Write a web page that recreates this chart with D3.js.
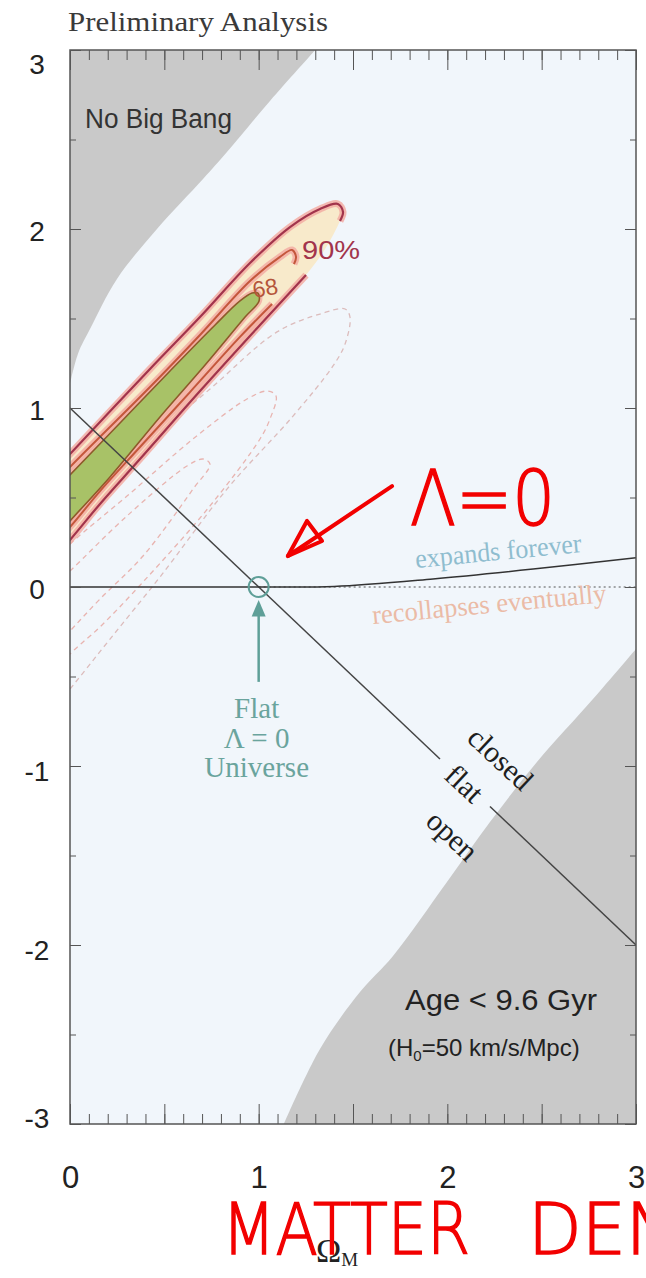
<!DOCTYPE html>
<html>
<head>
<meta charset="utf-8">
<script src="https://cdn.jsdelivr.net/npm/d3@7"></script>
<style>
  body { margin: 0; background: #fff; }
  .serif { font-family: "Liberation Serif", "DejaVu Serif", serif; }
  .sans { font-family: "Liberation Sans", Arial, sans-serif; }
  .hand { font-family: "DejaVu Sans", sans-serif; font-weight: 200; }
</style>
</head>
<body>
<div id="chart"></div>
<script>
// ---- data (Omega_M, Omega_Lambda) ----
var xTickValues = [0, 1, 2, 3];
var xTickLabels = ["0", "1", "2", "3"];
var yTickValues = [-3, -2, -1, 0, 1, 2, 3];
var yTickLabels = ["-3", "-2", "-1", "0", "1", "2", "3"];

// edge of the "No Big Bang" region, top edge down to the left edge
var noBigBangEdge = [[1.30, 3.0], [1.06, 2.715], [0.832, 2.43], [0.705, 2.279], [0.461, 2.0],
  [0.249, 1.721], [0.106, 1.441], [0.042, 1.302], [0, 1.134]];
// edge of the "Age < 9.6 Gyr" region, right edge down to the bottom edge
var ageEdge = [[3.0, -0.346], [2.772, -0.626], [2.475, -0.978], [2.226, -1.313], [1.998, -1.648],
  [1.712, -2.061], [1.537, -2.263], [1.325, -2.581], [1.134, -3.0]];

// 90% contour, upper branch (left to tip) and lower branch (tip to left)
var c90Upper = [[-0.159, 0.564], [0, 0.743], [0.424, 1.218], [0.689, 1.508], [0.954, 1.810],
  [1.166, 2.011], [1.325, 2.112], [1.420, 2.140], [1.447, 2.095], [1.431, 2.045]];
var c90Tip = [[1.352, 1.888]];
var c90Lower = [[1.251, 1.743], [1.007, 1.464], [0.689, 1.095], [0.371, 0.715], [0.159, 0.464],
  [0, 0.263], [-0.159, 0.078]];
// 68% contour
var c68Upper = [[-0.159, 0.492], [0, 0.670], [0.424, 1.117], [0.689, 1.408], [0.954, 1.709],
  [1.113, 1.844], [1.177, 1.883], [1.198, 1.844], [1.187, 1.804]];
var c68Lower = [[1.071, 1.581], [0.901, 1.397], [0.636, 1.089], [0.371, 0.782], [0.159, 0.536],
  [0, 0.335], [-0.159, 0.156]];
// innermost (green) contour, closed
var cInner = [[-0.159, 0.447], [0, 0.626], [0.265, 0.916], [0.530, 1.207], [0.769, 1.464],
  [0.901, 1.598], [0.965, 1.642], [0.996, 1.642], [1.002, 1.598], [0.928, 1.508], [0.716, 1.240],
  [0.477, 0.950], [0.212, 0.615], [0, 0.369], [-0.159, 0.179]];

// faint dashed contours (other fit)
var dashA = [[-0.159, 0.184], [0, 0.363], [0.387, 0.788], [0.742, 1.106], [1.097, 1.425], [1.325, 1.525],
  [1.458, 1.553], [1.484, 1.508], [1.458, 1.358], [1.394, 1.235], [1.182, 0.955], [0.832, 0.547],
  [0.477, 0.056], [0.212, -0.291], [0, -0.570], [-0.159, -0.770]];
var dashB = [[-0.159, 0.073], [0, 0.240], [0.302, 0.508], [0.652, 0.827], [0.938, 1.050], [1.049, 1.095],
  [1.092, 1.067], [1.060, 0.939], [1.007, 0.827], [0.742, 0.453], [0.387, 0.028], [0.159, -0.223],
  [0, -0.374], [-0.159, -0.560]];
var dashC = [[-0.159, -0.067], [0, 0.089], [0.302, 0.397], [0.620, 0.676], [0.705, 0.715], [0.742, 0.687],
  [0.652, 0.547], [0.387, 0.173], [0.159, -0.067], [0, -0.246], [-0.159, -0.430]];

// flat universe line Omega_M + Omega_L = 1 (gap for the "flat" label)
var flatLineA = [[0, 1], [1.961, -0.961]];
var flatLineB = [[2.226, -1.226], [3, -2]];
// expands / recollapses boundary
var expandEdge = [[0, 0], [1, 0], [1.4, 0.003], [1.924, 0.045], [2.455, 0.1], [3, 0.163]];
var lambdaZero = [[1, 0], [3, 0]];

// ---- layout ----
var svgWidth = 646, svgHeight = 1278;
var margin = { top: 50, left: 70, right: 10, bottom: 154 };
var chartWidth = svgWidth - margin.left - margin.right;
var chartHeight = svgHeight - margin.top - margin.bottom;

var svg = d3.select("#chart").append("svg")
  .attr("width", svgWidth)
  .attr("height", svgHeight);

var chartGroup = svg.append("g")
  .attr("transform", `translate(${margin.left}, ${margin.top})`);

var x = d3.scaleLinear().domain([0, 3]).range([0, chartWidth]);
var y = d3.scaleLinear().domain([-3, 3]).range([chartHeight, 0]);

svg.append("defs").append("clipPath").attr("id", "plotClip")
  .append("rect").attr("width", chartWidth).attr("height", chartHeight);

var line = d3.line().x(d => x(d[0])).y(d => y(d[1])).curve(d3.curveCatmullRom.alpha(0.5));
var loop = d3.line().x(d => x(d[0])).y(d => y(d[1])).curve(d3.curveCatmullRomClosed.alpha(0.5));
var straight = d3.line().x(d => x(d[0])).y(d => y(d[1]));

var plot = chartGroup.append("g").attr("clip-path", "url(#plotClip)");

// background
plot.append("rect").attr("width", chartWidth).attr("height", chartHeight).attr("fill", "#f1f6fb");

// grey regions
plot.append("path")
  .attr("d", line(noBigBangEdge) + `L${x(0)},${y(3)}Z`)
  .attr("fill", "#c9c9c9");
plot.append("path")
  .attr("d", line(ageEdge) + `L${x(3)},${y(-3)}Z`)
  .attr("fill", "#c9c9c9");

// dashed contours
[dashA, dashB, dashC].forEach(function(c, i) {
  plot.append("path")
    .attr("d", loop(c))
    .attr("fill", "none")
    .attr("stroke", i === 0 ? "#dcbcbc" : "#e8b4b0")
    .attr("stroke-width", 1.3)
    .attr("stroke-dasharray", "5,4");
});

// confidence regions
plot.append("path")
  .attr("d", line(c90Upper.concat(c90Tip, c90Lower)) + "Z")
  .attr("fill", "#f8eacb");

[c90Upper, c90Lower, c68Upper, c68Lower].forEach(function(c) {
  plot.append("path").attr("d", line(c))
    .attr("fill", "none").attr("stroke", "#f3ada3").attr("stroke-width", 7).attr("stroke-opacity", 0.85);
});
plot.append("path").attr("d", loop(cInner))
  .attr("fill", "#a8c267").attr("stroke", "#f3ada3").attr("stroke-width", 6).attr("stroke-opacity", 0.85);
plot.append("path").attr("d", loop(cInner))
  .attr("fill", "#a8c267").attr("stroke", "#8e5a2a").attr("stroke-width", 1.6);

[c90Upper, c90Lower].forEach(function(c) {
  plot.append("path").attr("d", line(c))
    .attr("fill", "none").attr("stroke", "#a2344c").attr("stroke-width", 2.2);
});
[c68Upper, c68Lower].forEach(function(c) {
  plot.append("path").attr("d", line(c))
    .attr("fill", "none").attr("stroke", "#c4573c").attr("stroke-width", 2);
});

// flat line
[flatLineA, flatLineB].forEach(function(c) {
  plot.append("path").attr("d", straight(c))
    .attr("fill", "none").attr("stroke", "#444").attr("stroke-width", 1.5);
});

// expands forever / recollapses boundary
plot.append("path").attr("d", straight(lambdaZero))
  .attr("fill", "none").attr("stroke", "#555").attr("stroke-width", 1.2).attr("stroke-dasharray", "2,3");
plot.append("path").attr("d", line(expandEdge))
  .attr("fill", "none").attr("stroke", "#333").attr("stroke-width", 1.5);

// flat Lambda=0 point
var teal = "#5f9f98";
plot.append("circle")
  .attr("cx", x(1)).attr("cy", y(0)).attr("r", 10)
  .attr("fill", "none").attr("stroke", teal).attr("stroke-width", 2);
plot.append("line")
  .attr("x1", x(1)).attr("x2", x(1))
  .attr("y1", y(-0.53)).attr("y2", y(-0.13))
  .attr("stroke", teal).attr("stroke-width", 2.5);
plot.append("path")
  .attr("d", `M${x(1)},${y(-0.073)}L${x(1) - 7},${y(-0.165)}L${x(1) + 7},${y(-0.165)}Z`)
  .attr("fill", teal);

// ---- axes ----
var xMinor = d3.range(0, 31).map(i => i / 10);
var xMid = d3.range(0, 7).map(i => i / 2);
var yMinor = d3.range(0, 13).map(i => -3 + i / 2);

function styleTicks(sel) {
  sel.select(".domain").remove();
  sel.selectAll("line").attr("stroke", "#555");
}

chartGroup.append("g").attr("transform", `translate(0, ${chartHeight})`)
  .call(d3.axisBottom(x).tickValues(xMinor).tickSize(-10).tickFormat("")).call(styleTicks);
chartGroup.append("g").attr("transform", `translate(0, ${chartHeight})`)
  .call(d3.axisBottom(x).tickValues(xMid).tickSize(-20).tickFormat("")).call(styleTicks);
chartGroup.append("g")
  .call(d3.axisTop(x).tickValues(xMinor).tickSize(-10).tickFormat("")).call(styleTicks);
chartGroup.append("g")
  .call(d3.axisTop(x).tickValues(xMid).tickSize(-20).tickFormat("")).call(styleTicks);

chartGroup.append("g")
  .call(d3.axisLeft(y).tickValues(yMinor).tickSize(-6).tickFormat("")).call(styleTicks);
chartGroup.append("g")
  .call(d3.axisLeft(y).tickValues(yTickValues).tickSize(-11).tickFormat("")).call(styleTicks);
chartGroup.append("g").attr("transform", `translate(${chartWidth}, 0)`)
  .call(d3.axisRight(y).tickValues(yMinor).tickSize(-6).tickFormat("")).call(styleTicks);
chartGroup.append("g").attr("transform", `translate(${chartWidth}, 0)`)
  .call(d3.axisRight(y).tickValues(yTickValues).tickSize(-11).tickFormat("")).call(styleTicks);

// frame
chartGroup.append("rect")
  .attr("width", chartWidth).attr("height", chartHeight)
  .attr("fill", "none").attr("stroke", "#555").attr("stroke-width", 1.5);

// tick labels
var xLabelAxis = chartGroup.append("g").attr("transform", `translate(0, ${chartHeight})`)
  .call(d3.axisBottom(x).tickValues(xTickValues).tickSize(0).tickPadding(42)
    .tickFormat((d, i) => xTickLabels[i]));
xLabelAxis.select(".domain").remove();
xLabelAxis.selectAll("text")
  .attr("class", "sans").attr("font-size", 31).attr("fill", "#222");

var yLabelAxis = chartGroup.append("g")
  .call(d3.axisLeft(y).tickValues(yTickValues).tickSize(0)
    .tickFormat((d, i) => yTickLabels[i]));
yLabelAxis.select(".domain").remove();
yLabelAxis.selectAll("text")
  .attr("class", "sans").attr("font-size", 28).attr("fill", "#222")
  .attr("text-anchor", "middle").attr("x", -33)
  .attr("dy", d => d === 3 ? "0.85em" : (d === -3 ? "0.12em" : (d < 0 ? "0.52em" : "0.4em")));

// ---- texts ----
svg.append("text").attr("class", "serif")
  .attr("x", 68).attr("y", 31).attr("font-size", 27).attr("fill", "#3a3a3a")
  .attr("textLength", 260).attr("lengthAdjust", "spacingAndGlyphs")
  .text("Preliminary Analysis");

svg.append("text").attr("class", "sans")
  .attr("x", 85).attr("y", 128).attr("font-size", 27).attr("fill", "#333")
  .attr("textLength", 147).attr("lengthAdjust", "spacingAndGlyphs")
  .text("No Big Bang");

svg.append("text").attr("class", "sans")
  .attr("x", 405).attr("y", 1010).attr("font-size", 30).attr("fill", "#222")
  .attr("textLength", 192).attr("lengthAdjust", "spacingAndGlyphs")
  .text("Age < 9.6 Gyr");

var hText = svg.append("text").attr("class", "sans")
  .attr("x", 388).attr("y", 1056).attr("font-size", 24).attr("fill", "#222");
hText.append("tspan").text("(H");
hText.append("tspan").attr("font-size", 15).attr("dy", 5).text("0");
hText.append("tspan").attr("dy", -5).text("=50 km/s/Mpc)");

// contour labels
chartGroup.append("text").attr("class", "sans")
  .attr("x", x(1.23)).attr("y", y(1.83)).attr("font-size", 26).attr("fill", "#a2344c")
  .attr("textLength", 58).attr("lengthAdjust", "spacingAndGlyphs")
  .text("90%");
chartGroup.append("text").attr("class", "sans")
  .attr("transform", `translate(${x(0.975)}, ${y(1.615)}) rotate(-10)`)
  .attr("font-size", 23).attr("fill", "#b5553a")
  .text("68");

// flat / closed / open
var diagLabels = [["closed", 2.279, -0.961], ["flat", 2.088, -1.101], ["open", 2.025, -1.391]];
diagLabels.forEach(function(d) {
  chartGroup.append("text").attr("class", "serif")
    .attr("transform", `translate(${x(d[1])}, ${y(d[2])}) rotate(43)`)
    .attr("text-anchor", "middle").attr("dy", "0.32em")
    .attr("font-size", 30).attr("fill", "#1e1e1e")
    .text(d[0]);
});

chartGroup.append("text").attr("class", "serif")
  .attr("transform", `translate(${x(1.834)}, ${y(0.106)}) rotate(-5.5)`)
  .attr("font-size", 27).attr("fill", "#8fbdcf")
  .attr("textLength", 167).attr("lengthAdjust", "spacingAndGlyphs")
  .text("expands forever");
chartGroup.append("text").attr("class", "serif")
  .attr("transform", `translate(${x(1.606)}, ${y(-0.207)}) rotate(-5.4)`)
  .attr("font-size", 27).attr("fill", "#ebbba6")
  .attr("textLength", 235).attr("lengthAdjust", "spacingAndGlyphs")
  .text("recollapses eventually");

var flatLines = ["Flat", "\u039B = 0", "Universe"];
flatLines.forEach(function(t, i) {
  chartGroup.append("text").attr("class", "serif")
    .attr("x", x(1) - 2).attr("y", 668 + i * 29.5)
    .attr("text-anchor", "middle").attr("font-size", 29).attr("fill", "#6aa49d")
    .text(t);
});

// axis title
var xTitle = svg.append("text").attr("class", "serif")
  .attr("x", 316).attr("y", 1262).attr("font-size", 34).attr("fill", "#222");
xTitle.append("tspan").text("\u03A9");
xTitle.append("tspan").attr("font-size", 19).attr("dy", 4).text("M");

// ---- hand-drawn red annotations ----
var red = "#f20000";
svg.append("text").attr("class", "hand")
  .attr("x", 410).attr("y", 525).attr("font-size", 76).attr("fill", red)
  .attr("stroke", red).attr("stroke-width", 1.5)
  .attr("textLength", 145).attr("lengthAdjust", "spacingAndGlyphs")
  .text("\u039B=0");

chartGroup.append("path")
  .attr("d", `M${x(1.707)},${y(0.564)}L${x(1.155)},${y(0.173)}`)
  .attr("stroke", red).attr("stroke-width", 4).attr("fill", "none").attr("stroke-linecap", "round");
chartGroup.append("path")
  .attr("d", `M${x(1.256)},${y(0.369)}L${x(1.155)},${y(0.173)}L${x(1.336)},${y(0.257)}Z`)
  .attr("stroke", red).attr("stroke-width", 4).attr("fill", "none").attr("stroke-linejoin", "round");

svg.append("text").attr("class", "hand")
  .attr("x", 222).attr("y", 1254).attr("font-size", 72).attr("fill", red)
  .attr("stroke", red).attr("stroke-width", 1.5)
  .attr("textLength", 248).attr("lengthAdjust", "spacingAndGlyphs")
  .text("MATTER");
svg.append("text").attr("class", "hand")
  .attr("x", 528).attr("y", 1254).attr("font-size", 72).attr("fill", red)
  .attr("stroke", red).attr("stroke-width", 1.5)
  .attr("textLength", 150).attr("lengthAdjust", "spacingAndGlyphs")
  .text("DEN");
</script>
</body>
</html>
